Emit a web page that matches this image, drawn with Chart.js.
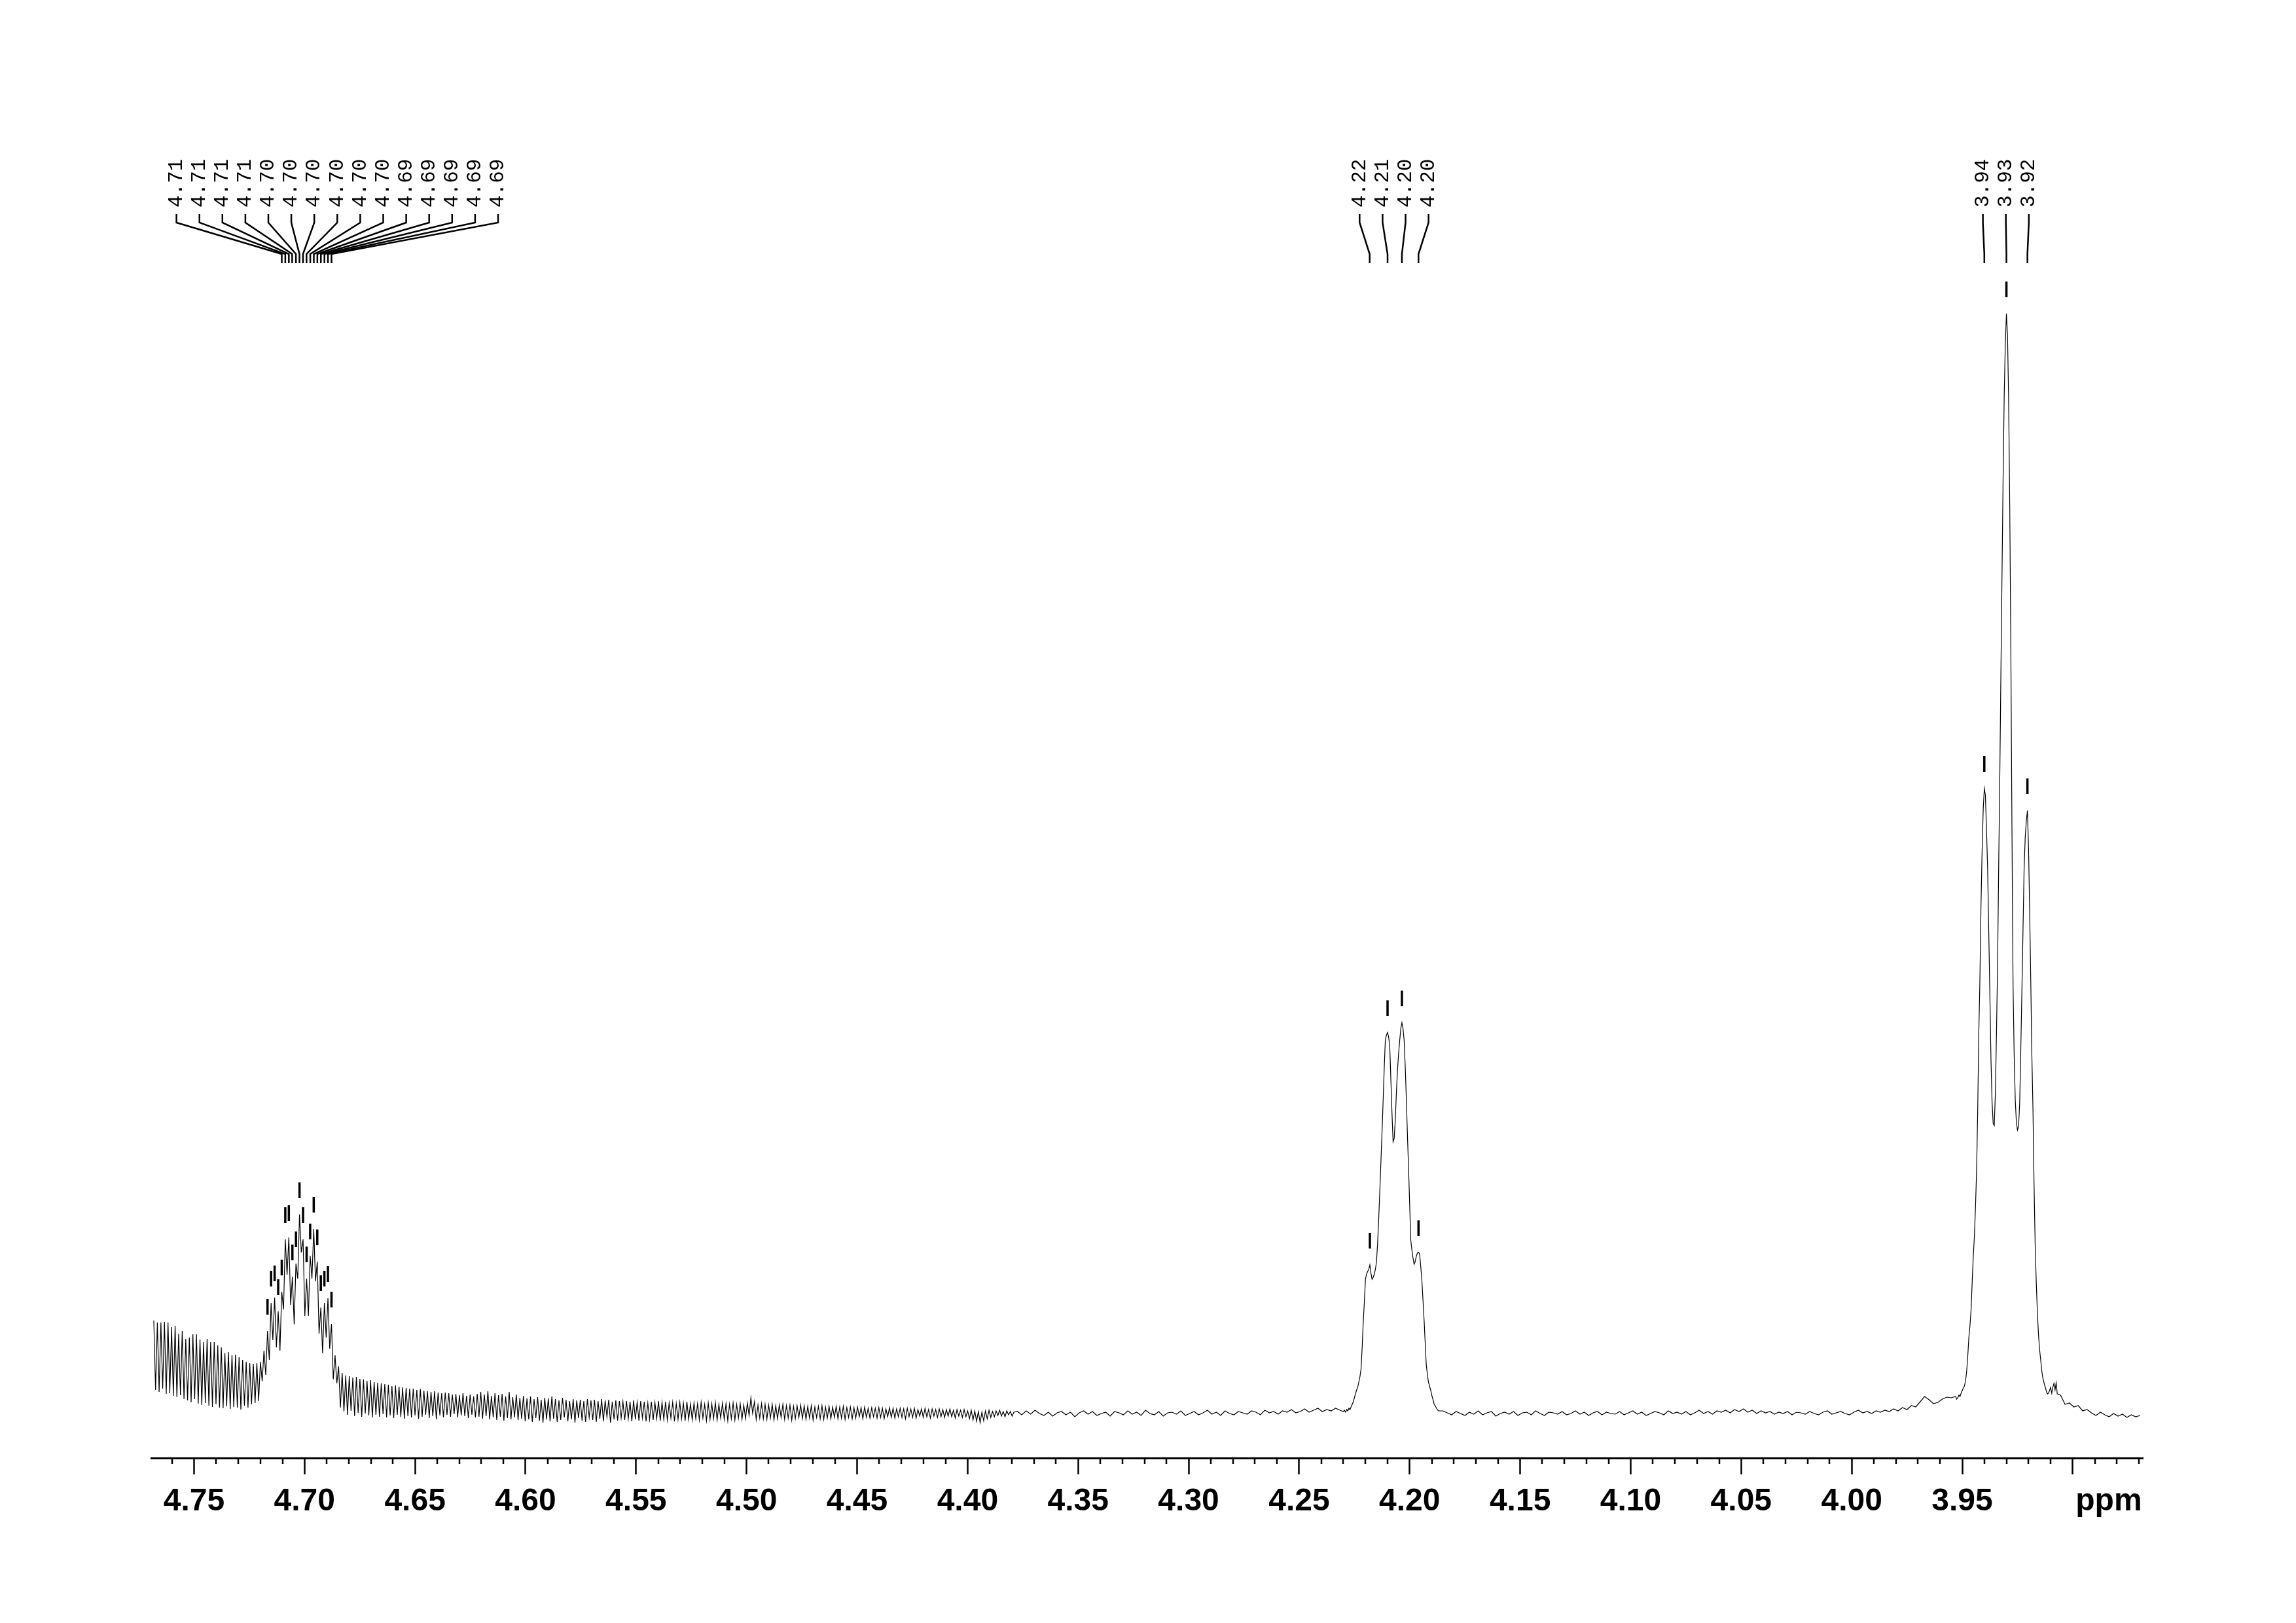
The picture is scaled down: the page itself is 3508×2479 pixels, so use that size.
<!DOCTYPE html>
<html>
<head>
<meta charset="utf-8">
<script src="https://cdn.jsdelivr.net/npm/chart.js@4/dist/chart.umd.min.js"></script>
<style>
  html, body { margin: 0; padding: 0; background: #fff; }
  canvas { display: block; }
</style>
</head>
<body>
<canvas id="spectrum" width="3508" height="2479"></canvas>
<script>
// axis
const axisMin = 3.8681
const axisMax = 4.7692
const majorTicks = [4.75, 4.70, 4.65, 4.60, 4.55, 4.50, 4.45, 4.40, 4.35, 4.30, 4.25, 4.20, 4.15, 4.10, 4.05, 4.00, 3.95, 3.90]
const tickLabels = ['4.75', '4.70', '4.65', '4.60', '4.55', '4.50', '4.45', '4.40', '4.35', '4.30', '4.25', '4.20', '4.15', '4.10', '4.05', '4.00', '3.95', '']

// spectrum, sampled on even ppm grids (start ppm, step ppm, intensities)
const ringStart = 4.7682
const ringStep = 0.000804
const ringValues = [
  142, 36, 139, 33, 139, 38, 140, 30, 139, 31, 132, 27, 134, 25, 122, 28, 126, 22, 114, 20,
  116, 17, 121, 22, 121, 15, 113, 13, 109, 16, 114, 12, 109, 10, 109, 14, 104, 9, 101, 8,
  92, 11, 94, 7, 89, 10, 90, 9, 86, 6, 82, 12, 79, 9, 77, 14, 76, 16, 77, 19,
  79,
  49, 96, 59, 126, 82, 169, 112, 177, 101, 156, 96, 186, 159, 266, 212, 269, 166, 209, 136, 229,
  206, 304, 246, 266, 149, 206, 149, 241, 206, 282, 202, 232, 122, 162, 92, 169, 116, 176, 99, 137,
  52, 89, 46, 72,
  9, 62, 3, 58, -2, 57, 4, 55, -4, 56, 1, 53, -5, 52, 0, 50, -3, 51, -6, 48,
  -2, 47, -5, 46, -1, 45, -6, 44, -3, 42, -7, 43, -2, 41, -5, 40, -8, 39, -4, 38,
  -6, 38, -3, 36, -8, 37, -5, 35, -2, 34, -7, 33, -4, 34, -9, 32, -3, 31, -6, 32,
  -2, 31, -5, 29, -1, 30, -6, 28, -3, 31, -4, 27, -7, 29, -2, 26, -6, 30, -5, 33,
  -8, 29, -4, 34, -9, 27, -6, 31, -10, 28, -5, 30, -11, 26, -7, 33, -9, 25, -6, 29,
  -10, 24, -8, 27, -12, 23, -9, 26, -13, 22, -7, 25, -11, 21, -14, 24, -9, 23, -12, 26,
  -8, 22, -13, 20, -10, 24, -6, 21, -12, 19, -9, 22, -14, 20, -7, 21, -11, 19, -13, 22,
  -6, 20, -10, 21, -13, 19, -8, 22, -12, 20, -5, 21, -14, 18, -9, 20, -11, 19, -7, 18,
  -10, 19, -8, 18, -12, 20, -9, 17, -11, 19, -7, 18, -12, 16, -9, 18, -10, 17, -8, 19,
  -11, 17, -9, 18, -10, 16, -7, 17, -12, 15, -9, 17, -8, 16, -11, 18, -9, 15, -10, 16,
  -8, 15, -10, 17, -7, 14, -11, 16, -9, 15, -8, 17, -10, 14, -7, 16, -9, 15, -11, 14,
  -8, 16, -10, 14, -7, 15, -9, 13, -8, 16, -3, 24, 0, 18, -9, 13, -7, 15, -8, 14,
  -9, 13, -7, 14, -10, 12, -8, 13, -6, 14, -9, 12, -7, 13, -10, 11, -8, 12, -6, 13,
  -8, 12, -9, 11, -7, 12, -10, 10, -6, 11, -8, 12, -9, 10, -7, 11, -8, 10, -6, 11,
  -8, 10, -7, 11, -9, 9, -6, 10, -8, 9, -7, 10, -5, 9, -8, 10, -6, 8, -7, 9,
  -5, 8, -7, 9, -6, 8, -8, 7, -5, 9, -6, 8, -7, 7, -5, 8, -6, 7, -8, 8,
  -5, 7, -6, 8, -7, 6, -4, 7, -6, 8, -5, 6, -7, 7, -4, 6, -6, 7, -5, 6,
  -6, 6, -4, 7, -5, 5, -7, 6, -4, 5, -6, 6, -5, 4, -8, 5, -10, 4, -12, 3,
  -14, 2, -11, 4, -8, 5, -6, 3, -5, 4, -3, 5, -4, 3, -5, 4, -2, 3, -4, 2,
]

const baseStep = 0.002
const baseAStart = 4.3775
const baseAValues = [
  3, -2, 4, -1, 5, 0, -3, 2, -4, 1, 3, -2, 2, -5, 1, 4, -1, 3, -3, 0,
  2, -4, 3, 1, -2, 4, -1, 2, -3, 5, 0, -2, 3, -4, 1, 2, -1, 4, -3, 0,
  3, -2, 1, 5, -1, 2, -3, 4, 0, -2, 3, 1, -1, 4, 2, -2, 5, 1, 3, -1,
  4, 2, 6, 1, 3, 7, 2, 5, 8, 3, 6, 4, 8, 5,
]

const fineStep = 0.0005
const multStart = 4.2300
const multValues = [
  3, 5, 2, 6, 4, 8, 6, 10, 14, 18, 24, 30, 36, 40, 48, 56, 68, 100, 140, 170,
  205, 213, 217, 220, 227, 214, 205, 208, 213, 220, 232, 260, 298, 340, 385, 430, 478, 528, 571, 578,
  582, 575, 560, 510, 459, 415, 420, 449, 490, 525, 550, 570, 588, 597, 588, 570, 530, 480, 425, 375,
  320, 265, 250, 238, 228, 232, 240, 245, 246, 244, 225, 205, 175, 145, 110, 75, 60, 48, 42, 36,
  28, 22, 15, 12, 9, 6, 4,
]

const baseBStart = 4.1850
const baseBValues = [
  4, 1, -2, 3, 0, -3, 2, -1, 4, -2, 1, 3, -4, 0, 2, -1, 3, -3, 1, 2,
  -2, 4, 0, -3, 2, 1, -1, 3, -2, 0, 4, -1, 2, -3, 1, 3, -2, 2, 0, -1,
  3, -2, 1, 4, -1, 2, -3, 0, 3, 1, -2, 4, 0, 2, -1, 3, -2, 1, 5, 0,
  3, -1, 4, 2, 5, 1, 6, 3, 7, 2, 5, 0, 4, 1, 3, -1, 2, 0, 3, -2,
  2, 1, -1, 3, 0, -2, 2, 4, -1, 1, 3, 0, -2, 2, 5, 1, 3, 0, 4, 2,
  5, 3, 7, 4, 9, 6, 12, 10, 18, 26, 21, 15, 17, 22, 25, 24,
]

const tripStart = 3.9530
const tripValues = [
  26, 22, 24, 28, 26, 31, 35, 39, 42, 50, 64, 87, 116, 134, 158, 200, 240, 270, 315, 370,
  462, 580, 662, 777, 860, 923, 955, 944, 890, 832, 737, 642, 542, 476, 443, 440, 489, 580, 685, 837,
  972, 1130, 1281, 1430, 1556, 1634, 1680, 1646, 1548, 1388, 1168, 894, 654, 548, 479, 445, 433, 439, 474, 556,
  645, 738, 832, 880, 905, 921, 865, 770, 664, 548, 466, 350, 258, 200, 155, 121, 98, 82, 65, 54,
  47, 41, 35, 30, 31, 35, 40, 31, 40, 46, 36, 47, 30,
]

const baseCStart = 3.9055
const baseCValues = [28, 14, 16, 10, 12, 4, 6, 1, -3, 2, -2, -5, 0, -4, -1, -6, -2, -5, -3]

// peak picks (ppm)
const picksUnlabelled = [4.7167, 4.7151, 4.7135, 4.7119]
const picksA = [4.7103, 4.7087, 4.7071, 4.7056, 4.7039, 4.7023, 4.7007, 4.6991, 4.6974, 4.6958, 4.6942, 4.6926, 4.6910, 4.6894, 4.6878]
const picksB = [4.2181, 4.2100, 4.2035, 4.1960]
const picksC = [3.9400, 3.9300, 3.9205]

const LABEL_GAP = 35.1
const MARK_OFFSET = 37

function buildSpectrum() {
  const segments = [
    [ringStart, ringStep, ringValues],
    [baseAStart, baseStep, baseAValues],
    [multStart, fineStep, multValues],
    [baseBStart, baseStep, baseBValues],
    [tripStart, fineStep, tripValues],
    [baseCStart, baseStep, baseCValues],
  ]
  const points = []
  segments.forEach(([start, step, values]) => {
    values.forEach((y, i) => {
      points.push({ x: +(start - i * step).toFixed(6), y })
    })
  })
  return points
}

function peakTop(points, ppm) {
  let best = null
  points.forEach((p) => {
    if (Math.abs(p.x - ppm) <= 0.0006 && (!best || p.y > best.y))
      best = p
  })
  return best
}

const axisExtras = {
  id: 'axisExtras',
  afterDraw(chart) {
    const { ctx, chartArea, scales: { x } } = chart
    ctx.save()
    ctx.strokeStyle = '#000'
    ctx.lineWidth = 2.5
    for (let k = Math.ceil(x.min * 100); k <= Math.floor(x.max * 100); k++) {
      if (k % 5 === 0)
        continue
      const px = Math.round(x.getPixelForValue(k / 100))
      ctx.beginPath()
      ctx.moveTo(px, chartArea.bottom)
      ctx.lineTo(px, chartArea.bottom + 9)
      ctx.stroke()
    }
    ctx.font = 'bold 48px "Liberation Sans", Arial, sans-serif'
    ctx.fillStyle = '#000'
    ctx.textAlign = 'right'
    ctx.textBaseline = 'middle'
    ctx.fillText('ppm', chartArea.right - 2, chartArea.bottom + 25 + 13 + 28.8)
    ctx.restore()
  },
}

const pickLabels = {
  id: 'pickLabels',
  afterDatasetsDraw(chart) {
    const { ctx, chartArea, scales: { x } } = chart
    const top = chartArea.top
    ctx.save()
    ctx.strokeStyle = '#000'
    ctx.fillStyle = '#000'
    ctx.lineWidth = 2.5
    ctx.font = '31px "Liberation Mono", "DejaVu Sans Mono", monospace'
    ;[picksA, picksB, picksC].forEach((group) => {
      const px = group.map(p => x.getPixelForValue(p))
      const mid = (Math.min(...px) + Math.max(...px)) / 2
      const first = Math.max(mid - (group.length - 1) * LABEL_GAP / 2, chartArea.left + 38)
      group.forEach((ppm, i) => {
        const lx = first + i * LABEL_GAP
        ctx.beginPath()
        ctx.moveTo(lx, top - 93)
        ctx.lineTo(lx, top - 80)
        ctx.lineTo(px[i], top - 32)
        ctx.lineTo(px[i], top - 18)
        ctx.stroke()
        ctx.save()
        ctx.translate(lx, top - 103)
        ctx.rotate(-Math.PI / 2)
        ctx.textAlign = 'left'
        ctx.textBaseline = 'middle'
        ctx.fillText(ppm.toFixed(2), 0, 0)
        ctx.restore()
      })
    })
    ctx.restore()
  },
}

function main() {
  const spectrum = buildSpectrum()
  const picks = [...picksUnlabelled, ...picksA, ...picksB, ...picksC]
  const marks = picks.map((ppm) => {
    const top = peakTop(spectrum, ppm)
    return { x: top.x, y: top.y + MARK_OFFSET }
  })

  new Chart(document.getElementById('spectrum'), {
    type: 'line',
    data: {
      datasets: [
        {
          data: spectrum,
          borderColor: '#000',
          borderWidth: 1.2,
          pointRadius: 0,
          tension: 0,
        },
        {
          data: marks,
          showLine: false,
          pointStyle: 'line',
          pointRotation: 90,
          pointRadius: 12,
          pointBorderWidth: 3.5,
          pointBorderColor: '#000',
        },
      ],
    },
    options: {
      responsive: false,
      animation: false,
      events: [],
      layout: { padding: { left: 231.6, right: 233.4, top: 420, bottom: 143.4 } },
      scales: {
        x: {
          type: 'linear',
          reverse: true,
          min: axisMin,
          max: axisMax,
          afterBuildTicks: (scale) => {
            scale.ticks = majorTicks.map(value => ({ value }))
          },
          ticks: {
            autoSkip: false,
            maxRotation: 0,
            padding: 13,
            color: '#000',
            font: { family: '"Liberation Sans", Arial, sans-serif', weight: 'bold', size: 48 },
            callback: (value, index) => tickLabels[index],
          },
          grid: { drawOnChartArea: false, drawTicks: true, tickLength: 25, tickWidth: 2.5, tickColor: '#000' },
          border: { display: true, color: '#000', width: 3 },
        },
        y: { display: false, min: -68, max: 1739 },
      },
      plugins: { legend: { display: false }, tooltip: { enabled: false } },
    },
    plugins: [axisExtras, pickLabels],
  })
}

main()
</script>
</body>
</html>
